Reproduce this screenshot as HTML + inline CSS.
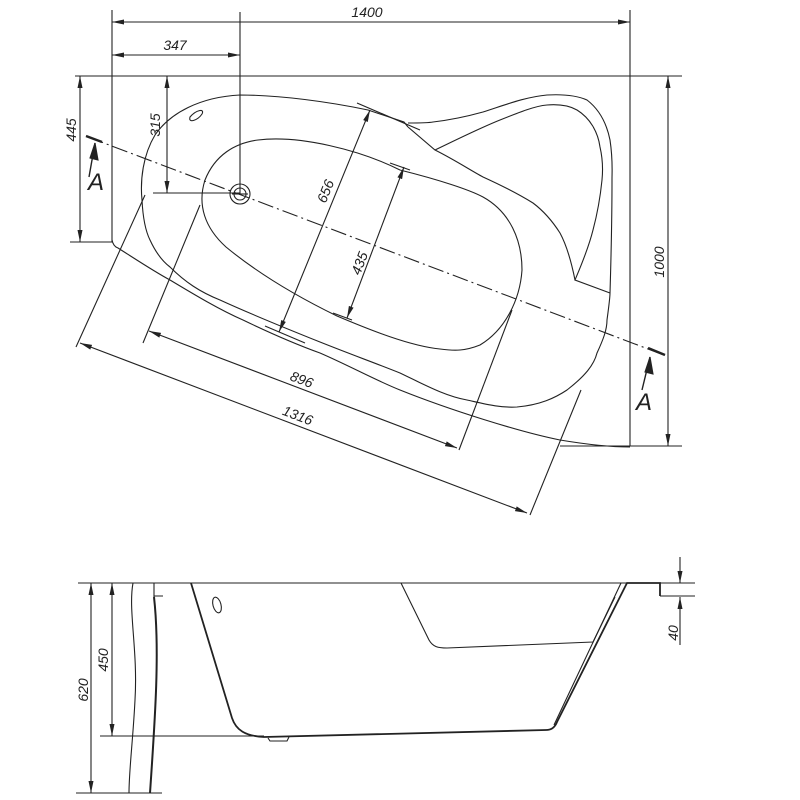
<!DOCTYPE html>
<html><head><meta charset="utf-8"><style>body{margin:0;background:#fff}svg{display:block}text{font-family:"Liberation Sans",sans-serif;font-style:italic;fill:#222}</style></head><body>
<svg width="800" height="800" viewBox="0 0 800 800" xmlns="http://www.w3.org/2000/svg">
<defs><marker id="a" viewBox="0 0 12 10" refX="12" refY="5" markerWidth="12" markerHeight="10" orient="auto-start-reverse" markerUnits="userSpaceOnUse"><path d="M0,2.5 L12,5 L0,7.5z" fill="#222"/></marker></defs>
<g stroke="#222" stroke-width="1.1" fill="none">
<line x1="112" y1="10" x2="112" y2="242"/><line x1="630" y1="10" x2="630" y2="446"/>
<line x1="112" y1="22" x2="630" y2="22" marker-start="url(#a)" marker-end="url(#a)"/>
<line x1="112" y1="55" x2="240" y2="55" marker-start="url(#a)" marker-end="url(#a)"/>
<line x1="240" y1="12" x2="240" y2="195"/>
<line x1="75" y1="76" x2="682" y2="76"/>
<line x1="70" y1="242" x2="113" y2="242"/>
<line x1="80" y1="76" x2="80" y2="242" marker-start="url(#a)" marker-end="url(#a)"/>
<line x1="153" y1="193" x2="240" y2="193"/>
<line x1="167" y1="76" x2="167" y2="193" marker-start="url(#a)" marker-end="url(#a)"/>
<line x1="560" y1="446" x2="682" y2="446"/>
<line x1="668" y1="76" x2="668" y2="446" marker-start="url(#a)" marker-end="url(#a)"/>
<!-- outer bottom edge -->
<path d="M112,240 C113,245 115,247 118,248 C140,262 155,272 170,280 C195,295 220,310 243,320 C270,333 295,344 320,353 C350,366 375,380 400,390 C450,410 520,432 560,440 C590,445 610,447 630,447"/>
<!-- rim -->
<path d="M408,127 L404,122 L368,110 C330,102 280,95 240,95 C200,97 170,113 155,135 C143,155 140,180 142,200 C143,220 146,232 150,240 C156,253 162,261 170,267 C185,282 200,292 220,300 C255,316 290,330 320,342 C350,354 375,363 400,373 C425,385 445,396 467,400 C485,404 500,408 517,407 C540,405 555,398 567,390 C585,376 594,365 597,353 C603,340 607,330 607,320 C609,305 610,298 610,293"/>
<path d="M408,127 L435,150 C455,160 470,170 483,177 C505,187 520,195 533,203 C545,212 553,222 560,233 C567,246 572,265 575,280"/>
<!-- wing outer -->
<path d="M408,123 C420,123 428,123 433,122 C450,120 465,117 483,112 C505,105 525,97 547,95 C565,94 578,96 587,100 C600,110 607,125 610,140 C613,160 612,170 612,180 C612,220 611,260 610,293"/>
<!-- wing inner -->
<path d="M435,150 C460,138 480,128 500,120 C520,112 535,106 547,105 C560,104 570,106 577,110 C590,118 598,132 600,147 C603,160 603,170 602,180 C600,200 597,215 593,230 C588,250 580,268 575,280 L610,293"/>
<!-- basin -->
<path d="M258,140 C300,135 360,150 400,170 C440,180 470,190 483,197 C510,212 522,240 522,270 C520,300 505,330 480,345 C465,351 455,351 440,349 C410,346 370,330 337,316 C300,298 260,275 226,247 C205,228 197,205 205,180 C215,155 235,143 258,140z"/>
<path d="M190,117 C196,110 205,108 202,114 C198,120 188,124 190,117z"/>
<circle cx="240" cy="194" r="10"/><circle cx="240" cy="194" r="6"/>
<line x1="232" y1="194" x2="248" y2="194"/>
<line x1="88" y1="137" x2="664" y2="355" stroke-dasharray="16,4,2,4"/>
<line x1="86" y1="136" x2="102" y2="142" stroke-width="2.5"/>
<line x1="648" y1="348" x2="665" y2="355" stroke-width="2.5"/>
<path d="M89,177 L95,143" stroke-width="1.4"/><path d="M95,143 L98,160 L90,158z" fill="#222"/>
<path d="M642,390 L650,357" stroke-width="1.4"/><path d="M650,357 L653,374 L645,372z" fill="#222"/>
<line x1="357" y1="103" x2="420" y2="130"/>
<line x1="265" y1="326" x2="305" y2="343"/>
<line x1="370" y1="110" x2="279" y2="332" marker-start="url(#a)" marker-end="url(#a)"/>
<line x1="390" y1="163" x2="410" y2="170"/>
<line x1="333" y1="313" x2="352" y2="320"/>
<line x1="404" y1="167" x2="347" y2="318" marker-start="url(#a)" marker-end="url(#a)"/>
<line x1="143" y1="343" x2="200" y2="205"/>
<line x1="459" y1="450" x2="512" y2="310"/>
<line x1="149" y1="331" x2="457" y2="448" marker-start="url(#a)" marker-end="url(#a)"/>
<line x1="76" y1="347" x2="145" y2="195"/>
<line x1="530" y1="515" x2="581" y2="390"/>
<line x1="80" y1="343" x2="527" y2="513" marker-start="url(#a)" marker-end="url(#a)"/>
<!-- bottom view -->
<line x1="78" y1="583" x2="695" y2="583"/>
<line x1="660" y1="596" x2="695" y2="596"/>
<line x1="680" y1="557" x2="680" y2="583" marker-end="url(#a)"/>
<line x1="680" y1="645" x2="680" y2="597" marker-end="url(#a)"/>
<line x1="76" y1="793" x2="162" y2="793"/>
<line x1="91" y1="583" x2="91" y2="793" marker-start="url(#a)" marker-end="url(#a)"/>
<line x1="100" y1="736" x2="264" y2="736"/>
<line x1="112" y1="583" x2="112" y2="736" marker-start="url(#a)" marker-end="url(#a)"/>
<path d="M133,583 C128,610 138,650 135,700 C133,740 129,770 129,793"/>
<path d="M154,597 C160,650 155,720 150,793" stroke-width="2"/>
<path d="M154,597 L154,583 L191,583 M154,596 L163,596"/>
<path d="M191,583 L232,718 C236,730 245,736 264,737 L546,730 C552,730 555,727 557,722 L627,583 L660,583 L660,596" stroke-width="1.8"/>
<path d="M621,583 L554,725"/>
<path d="M401,583 L429,640 C433,647 438,648 447,648 L593,642 L615,597"/>
<ellipse cx="217" cy="605" rx="4" ry="8" transform="rotate(-15 217 605)"/>
<path d="M268,738 L270,741 L287,741 L289,737"/>
</g>
<g font-size="14">
<text x="367" y="17" text-anchor="middle">1400</text>
<text x="175" y="50" text-anchor="middle">347</text>
<text transform="translate(76,130) rotate(-90)" text-anchor="middle">445</text>
<text transform="translate(160,125) rotate(-90)" text-anchor="middle">315</text>
<text transform="translate(664,262) rotate(-90)" text-anchor="middle">1000</text>
<text transform="translate(330,193) rotate(-68)" text-anchor="middle">656</text>
<text transform="translate(364,265) rotate(-69)" text-anchor="middle">435</text>
<text transform="translate(300,384) rotate(21)" text-anchor="middle">896</text>
<text transform="translate(296,420) rotate(21)" text-anchor="middle">1316</text>
<text transform="translate(88,690) rotate(-90)" text-anchor="middle">620</text>
<text transform="translate(108,660) rotate(-90)" text-anchor="middle">450</text>
<text transform="translate(678,633) rotate(-90)" text-anchor="middle">40</text>
</g>
<text x="88" y="190" font-size="24">A</text>
<text x="636" y="410" font-size="24">A</text>
</svg>
</body></html>
